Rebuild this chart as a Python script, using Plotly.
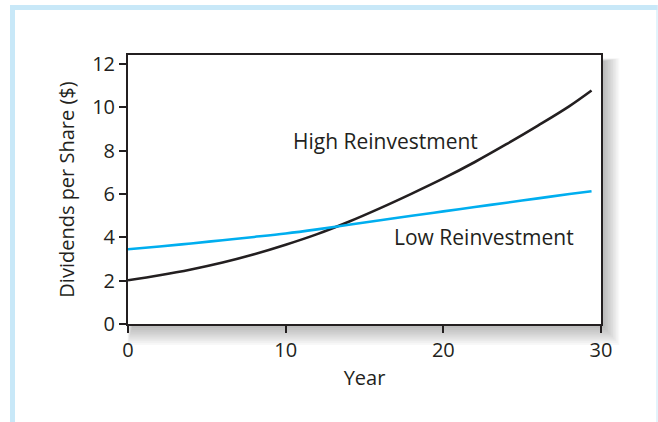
import plotly.graph_objects as go

# ---- data ----
years = [0, 2, 4, 6, 8, 10, 12, 14, 16, 18, 20, 22, 24, 26, 28, 29.4]
high_reinvestment = [2.02, 2.25, 2.52, 2.84, 3.22, 3.66, 4.15, 4.72, 5.35, 6.02, 6.72, 7.48, 8.30, 9.16, 10.06, 10.78]
low_reinvestment = [3.45, 3.58, 3.72, 3.87, 4.02, 4.18, 4.37, 4.58, 4.79, 5.00, 5.20, 5.40, 5.60, 5.80, 6.00, 6.13]
x_ticks = [0, 10, 20, 30]
y_ticks = [0, 2, 4, 6, 8, 10, 12]
labels = {"high": "High Reinvestment", "low": "Low Reinvestment"}
label_pos = {"high": (16.35, 8.45), "low": (22.55, 4.0)}

W, H = 658, 422
ML, MR, MT, MB = 128, 57, 55, 98
PW, PH = W - ML - MR, H - MT - MB
INK = "#231f20"
FONT = "Open Sans"


def px(x):
    return (x - ML) / PW


def py(y):
    return 1 - (y - MT) / PH


fig = go.Figure()
fig.add_trace(go.Scatter(x=years, y=high_reinvestment, mode="lines", line=dict(color=INK, width=2.6, shape="spline"),
                         hoverinfo="skip", showlegend=False))
fig.add_trace(go.Scatter(x=years, y=low_reinvestment, mode="lines", line=dict(color="#00aeef", width=2.6, shape="spline"),
                         hoverinfo="skip", showlegend=False))

for k in ("high", "low"):
    fig.add_annotation(x=label_pos[k][0], y=label_pos[k][1], text=labels[k], showarrow=False,
                       font=dict(family=FONT, size=21, color=INK))

shapes = []
# drop shadow behind plot area
for i in range(10):
    shapes.append(dict(type="rect", xref="paper", yref="paper", layer="below",
                       x0=px(ML + 4 - i * 0.5), x1=px(ML + PW + 4 + i * 1.6),
                       y0=py(MT + 6 - i * 0.3), y1=py(MT + PH + 4 + i * 1.9),
                       fillcolor="rgba(0,0,0,0.028)", line=dict(width=0)))
shapes.append(dict(type="rect", xref="paper", yref="paper", layer="below",
                   x0=0, x1=1, y0=0, y1=1, fillcolor="white", line=dict(width=0)))
# light blue frame
frame = "#c8e8f8"
shapes.append(dict(type="rect", xref="paper", yref="paper", layer="below",
                   x0=px(10), x1=px(657.5), y0=py(10), y1=py(5), fillcolor=frame, line=dict(width=0)))
shapes.append(dict(type="rect", xref="paper", yref="paper", layer="below",
                   x0=px(10), x1=px(15), y0=py(425), y1=py(5), fillcolor=frame, line=dict(width=0)))
shapes.append(dict(type="rect", xref="paper", yref="paper", layer="below",
                   x0=px(656.5), x1=px(657.5), y0=py(425), y1=py(5), fillcolor=frame, line=dict(width=0)))

fig.update_layout(
    width=W, height=H,
    margin=dict(l=ML, r=MR, t=MT, b=MB),
    paper_bgcolor="white", plot_bgcolor="rgba(0,0,0,0)",
    shapes=shapes,
    font=dict(family=FONT, color=INK, size=20),
    xaxis=dict(range=[0, 30], tickvals=x_ticks, ticks="outside", ticklen=7, tickwidth=2, tickcolor=INK,
               showline=True, linecolor=INK, linewidth=2, mirror=True, showgrid=False, zeroline=False,
               tickfont=dict(family=FONT, size=20, color=INK),
               title=dict(text="Year", font=dict(family=FONT, size=20, color=INK), standoff=9)),
    yaxis=dict(range=[0, 12.42], tickvals=y_ticks, ticks="outside", ticklen=7, tickwidth=2, tickcolor=INK,
               showline=True, linecolor=INK, linewidth=2, mirror=True, showgrid=False, zeroline=False,
               tickfont=dict(family=FONT, size=20, color=INK),
               title=dict(text="Dividends per Share ($)", font=dict(family=FONT, size=20, color=INK), standoff=12)),
)

fig.write_html("out.html", config={"displayModeBar": False, "staticPlot": True},
               post_script="document.body.style.margin='0px';")
